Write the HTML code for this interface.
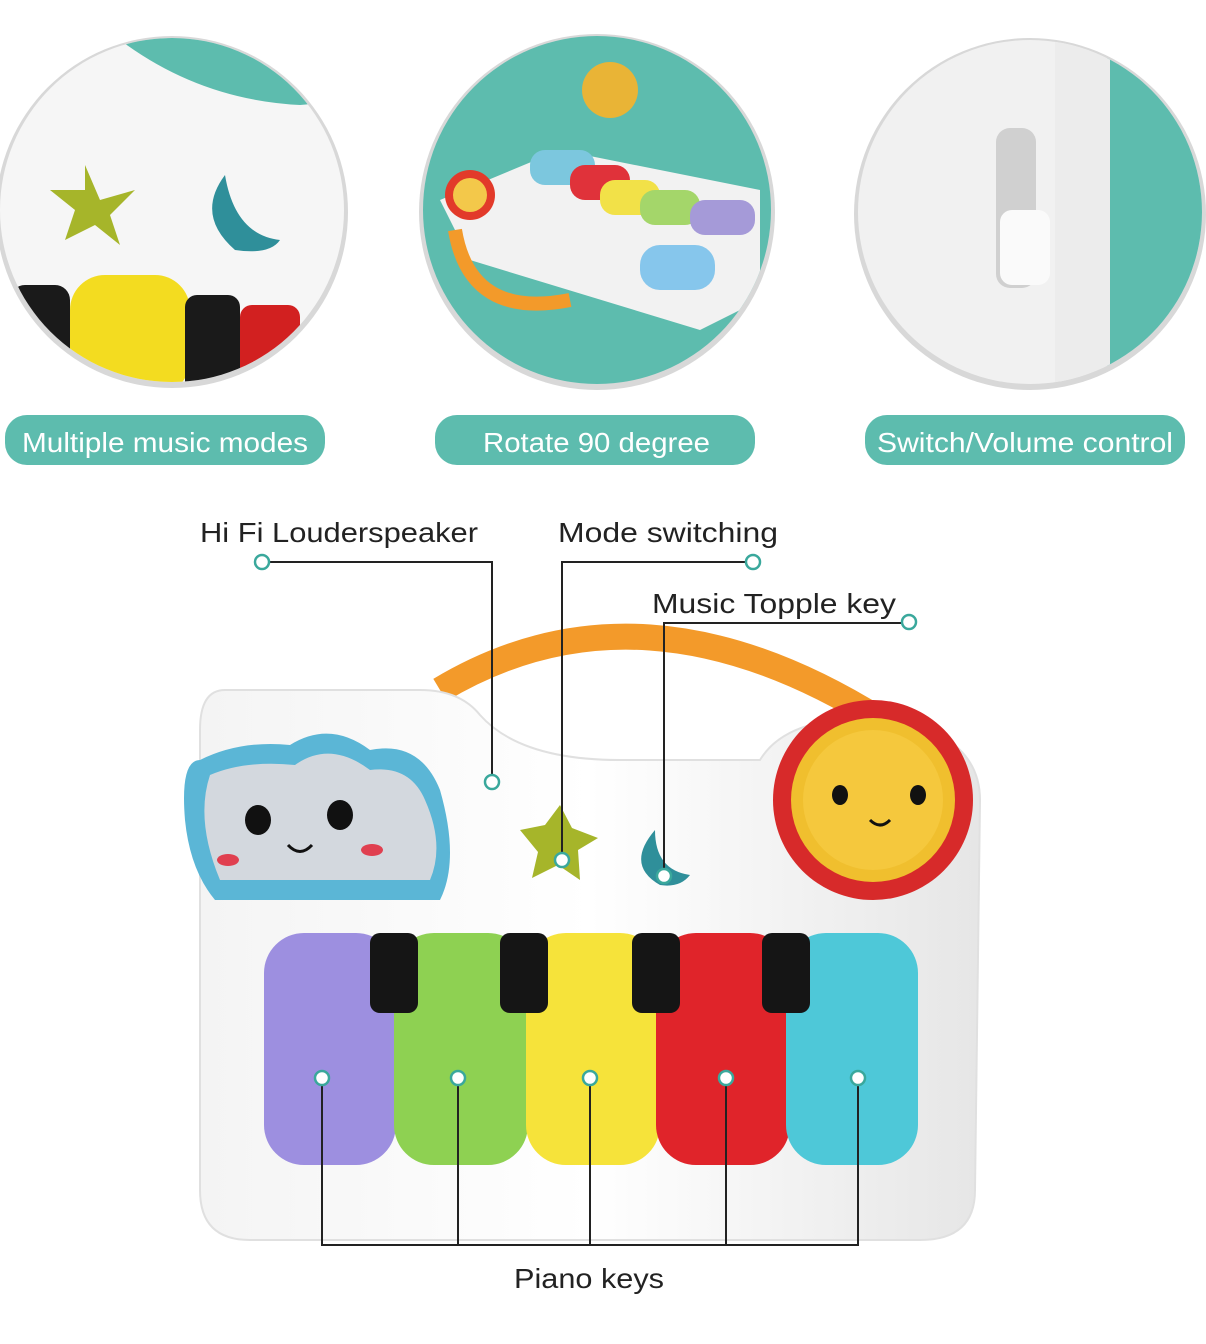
<!DOCTYPE html>
<html><head><meta charset="utf-8"><style>
html,body{margin:0;padding:0;background:#fff;}
svg{display:block;}
text{font-family:"Liberation Sans",sans-serif;}
</style></head><body>
<svg width="1206" height="1344" viewBox="0 0 1206 1344" xmlns="http://www.w3.org/2000/svg">
<defs>
<clipPath id="c1"><circle cx="172" cy="210" r="172"/></clipPath>
<clipPath id="c2"><circle cx="597" cy="210" r="174"/></clipPath>
<clipPath id="c3"><circle cx="1030" cy="212" r="172"/></clipPath>
<linearGradient id="wg" x1="0" x2="1"><stop offset="0" stop-color="#f4f4f4"/><stop offset=".5" stop-color="#fff"/><stop offset="1" stop-color="#e6e6e6"/></linearGradient>
</defs>
<circle cx="172" cy="212" r="176" fill="#d8d8d8"/>
<g clip-path="url(#c1)">
<rect x="0" y="30" width="350" height="360" fill="#f6f6f6"/>
<path d="M120 40 Q200 100 300 105 L360 100 L360 30 Z" fill="#5dbcae"/>
<path d="M85 165 L100 200 L135 190 L110 215 L120 245 L95 225 L65 240 L75 210 L50 190 L85 190 Z" fill="#a6b52a"/>
<path d="M225 175 Q195 215 235 250 Q270 255 280 240 Q235 235 225 175Z" fill="#2f8f9a"/>
<rect x="10" y="285" width="60" height="110" rx="15" fill="#1a1a1a"/>
<rect x="70" y="275" width="120" height="120" rx="35" fill="#f3dc20"/>
<rect x="185" y="295" width="55" height="100" rx="12" fill="#1a1a1a"/>
<rect x="240" y="305" width="60" height="90" rx="12" fill="#d22020"/>
</g>
<circle cx="597" cy="212" r="178" fill="#d8d8d8"/>
<g clip-path="url(#c2)">
<rect x="410" y="30" width="380" height="360" fill="#5dbcae"/>
<circle cx="610" cy="90" r="28" fill="#e9b436"/>
<path d="M440 200 L560 150 L760 190 L760 300 L700 330 L470 260 Z" fill="#f2f2f2"/>
<rect x="530" y="150" width="65" height="35" rx="15" fill="#7cc7de"/>
<rect x="570" y="165" width="60" height="35" rx="15" fill="#e0323a"/>
<rect x="600" y="180" width="60" height="35" rx="15" fill="#f2e148"/>
<rect x="640" y="190" width="60" height="35" rx="15" fill="#a4d66a"/>
<rect x="690" y="200" width="65" height="35" rx="15" fill="#a59ad8"/>
<circle cx="470" cy="195" r="25" fill="#e23a2a"/><circle cx="470" cy="195" r="17" fill="#f3c84a"/>
<path d="M455 230 Q470 320 570 300" stroke="#f39a2a" stroke-width="14" fill="none"/>
<rect x="640" y="245" width="75" height="45" rx="20" fill="#86c6ec"/>
</g>
<circle cx="1030" cy="214" r="176" fill="#d8d8d8"/>
<g clip-path="url(#c3)">
<rect x="850" y="30" width="360" height="370" fill="#f1f1f1"/>
<rect x="1107" y="30" width="100" height="370" fill="#5dbcae"/>
<rect x="1055" y="30" width="55" height="370" fill="#ececec"/>
<rect x="996" y="128" width="40" height="160" rx="14" fill="#d0d0d0"/>
<rect x="1000" y="210" width="50" height="75" rx="12" fill="#fafafa"/>
</g>
<g fill="#5dbcae">
<rect x="5" y="415" width="320" height="50" rx="22"/>
<rect x="435" y="415" width="320" height="50" rx="22"/>
<rect x="865" y="415" width="320" height="50" rx="22"/>
</g>
<g fill="#fff" font-size="28">
<text x="22" y="452" textLength="286" lengthAdjust="spacingAndGlyphs">Multiple music modes</text>
<text x="483" y="452" textLength="227" lengthAdjust="spacingAndGlyphs">Rotate 90 degree</text>
<text x="877" y="452" textLength="296" lengthAdjust="spacingAndGlyphs">Switch/Volume control</text>
</g>
<path d="M440 690 Q640 570 880 720" stroke="#f39a2a" stroke-width="26" fill="none"/>
<path d="M225 690 L420 690 Q460 690 480 715 Q520 760 620 760 L760 760 Q790 710 900 720 Q980 740 980 800 L975 1190 Q975 1240 920 1240 L250 1240 Q200 1240 200 1190 L200 730 Q200 690 225 690Z" fill="url(#wg)" stroke="#e0e0e0" stroke-width="2"/>
<path d="M200 760 Q180 760 185 820 Q190 870 215 900 L440 900 Q460 860 440 790 Q420 740 370 750 Q330 720 290 745 Q240 740 200 760Z" fill="#5bb6d6"/>
<path d="M210 775 Q195 820 220 880 L430 880 Q445 845 425 800 Q410 765 370 770 Q330 740 295 765 Q245 760 210 775Z" fill="#d3d8de"/>
<ellipse cx="258" cy="820" rx="13" ry="15" fill="#111"/><ellipse cx="340" cy="815" rx="13" ry="15" fill="#111"/>
<path d="M288 845 Q300 858 312 845" stroke="#111" stroke-width="3" fill="none"/>
<ellipse cx="228" cy="860" rx="11" ry="6" fill="#e04050"/><ellipse cx="372" cy="850" rx="11" ry="6" fill="#e04050"/>
<circle cx="873" cy="800" r="100" fill="#d72a2a"/>
<circle cx="873" cy="800" r="82" fill="#f0bf2e"/>
<circle cx="873" cy="800" r="70" fill="#f5c83d"/>
<ellipse cx="840" cy="795" rx="8" ry="10" fill="#111"/><ellipse cx="918" cy="795" rx="8" ry="10" fill="#111"/>
<path d="M870 820 Q880 830 890 820" stroke="#111" stroke-width="3" fill="none"/>
<path d="M520 830 L545 825 L560 805 L572 828 L598 838 L578 850 L580 880 L558 865 L532 878 L538 852Z" fill="#a6b52a"/>
<path d="M655 830 Q625 865 660 885 Q680 888 690 875 Q655 870 655 830Z" fill="#2f8f9a"/>
<rect x="264" y="933" width="132" height="232" rx="40" fill="#9d8fe0"/>
<rect x="394" y="933" width="134" height="232" rx="40" fill="#8ed152"/>
<rect x="526" y="933" width="134" height="232" rx="40" fill="#f6e33a"/>
<rect x="656" y="933" width="134" height="232" rx="40" fill="#e0242a"/>
<rect x="786" y="933" width="132" height="232" rx="40" fill="#4ec8d8"/>
<g fill="#151515">
<rect x="370" y="933" width="48" height="80" rx="10"/>
<rect x="500" y="933" width="48" height="80" rx="10"/>
<rect x="632" y="933" width="48" height="80" rx="10"/>
<rect x="762" y="933" width="48" height="80" rx="10"/>
</g>
<g stroke="#222" stroke-width="2" fill="none">
<path d="M268 562 H492 V782"/>
<path d="M562 854 V562 H748"/>
<path d="M664 876 V623 H903"/>
<path d="M322 1078 V1245 H858 V1078"/>
<path d="M458 1078 V1245"/><path d="M590 1078 V1245"/><path d="M726 1078 V1245"/>
</g>
<g fill="#fff" stroke="#3aa89c" stroke-width="2.5">
<circle cx="262" cy="562" r="7"/><circle cx="753" cy="562" r="7"/><circle cx="909" cy="622" r="7"/>
<circle cx="492" cy="782" r="7"/><circle cx="562" cy="860" r="7"/><circle cx="664" cy="876" r="7"/>
<circle cx="322" cy="1078" r="7"/><circle cx="458" cy="1078" r="7"/><circle cx="590" cy="1078" r="7"/><circle cx="726" cy="1078" r="7"/><circle cx="858" cy="1078" r="7"/>
</g>
<g fill="#222" font-size="28">
<text x="200" y="542" textLength="278" lengthAdjust="spacingAndGlyphs">Hi Fi Louderspeaker</text>
<text x="558" y="542" textLength="220" lengthAdjust="spacingAndGlyphs">Mode switching</text>
<text x="652" y="613" textLength="244" lengthAdjust="spacingAndGlyphs">Music Topple key</text>
<text x="514" y="1288" textLength="150" lengthAdjust="spacingAndGlyphs">Piano keys</text>
</g>
</svg>
</body></html>
